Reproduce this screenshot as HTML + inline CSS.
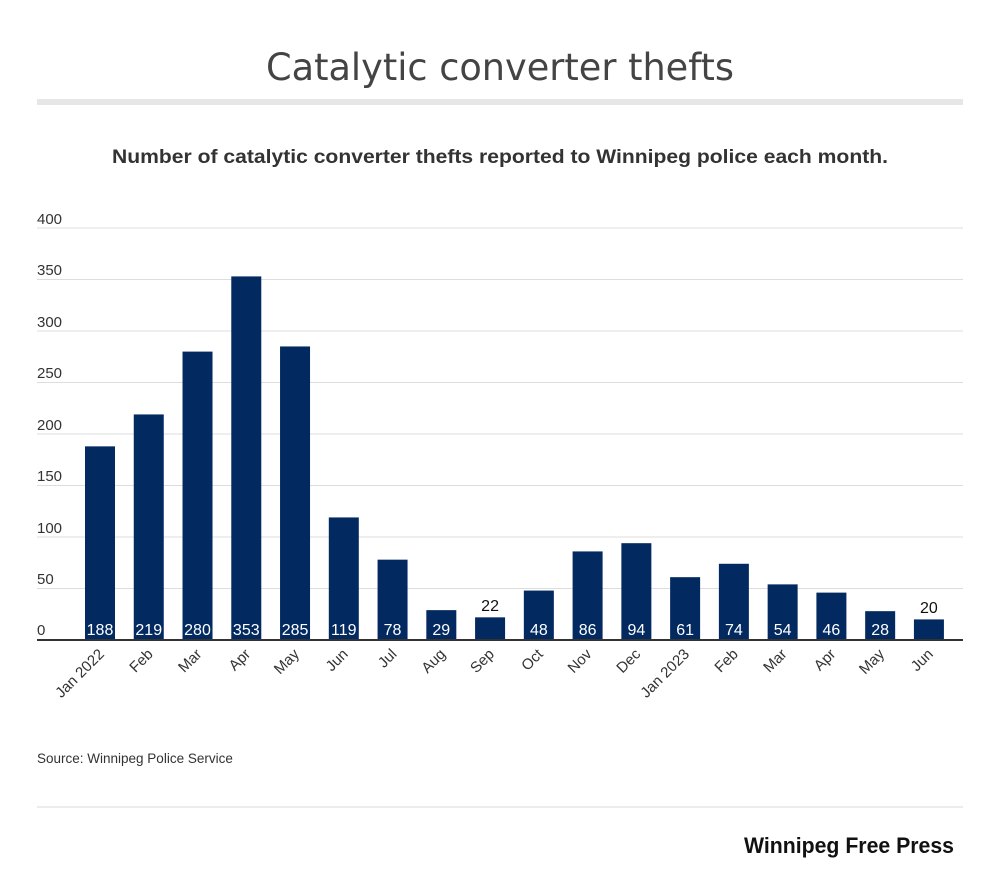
<!DOCTYPE html>
<html><head><meta charset="utf-8"><style>body{margin:0;background:#fff}svg{display:block}</style></head>
<body>
<svg width="1000" height="886" xmlns="http://www.w3.org/2000/svg" font-family="Liberation Sans, sans-serif">
<rect width="1000" height="886" fill="#fff"/>
<text x="500" y="80" text-anchor="middle" font-family="DejaVu Sans, sans-serif" font-size="37" fill="#444" textLength="468" lengthAdjust="spacingAndGlyphs">Catalytic converter thefts</text>
<rect x="37" y="99" width="926" height="6" fill="#e6e6e6"/>
<text x="500" y="163" text-anchor="middle" font-size="19.5" font-weight="bold" fill="#333" textLength="776" lengthAdjust="spacingAndGlyphs">Number of catalytic converter thefts reported to Winnipeg police each month.</text>
<g stroke="#ddd" stroke-width="1">
<line x1="37" x2="963" y1="228" y2="228"/><line x1="37" x2="963" y1="279.5" y2="279.5"/><line x1="37" x2="963" y1="331" y2="331"/><line x1="37" x2="963" y1="382.5" y2="382.5"/><line x1="37" x2="963" y1="434" y2="434"/><line x1="37" x2="963" y1="485.5" y2="485.5"/><line x1="37" x2="963" y1="537" y2="537"/><line x1="37" x2="963" y1="588.5" y2="588.5"/>
</g>
<g font-size="15" fill="#333">
<text x="37" y="224">400</text><text x="37" y="275">350</text><text x="37" y="327">300</text><text x="37" y="378">250</text><text x="37" y="430">200</text><text x="37" y="481">150</text><text x="37" y="533">100</text><text x="37" y="584">50</text><text x="37" y="635">0</text>
</g>
<g fill="#032a60">
<rect x="85" y="446.36" width="30" height="193.64"/>
<rect x="133.76" y="414.43" width="30" height="225.57"/>
<rect x="182.52" y="351.6" width="30" height="288.4"/>
<rect x="231.28" y="276.41" width="30" height="363.59"/>
<rect x="280.04" y="346.45" width="30" height="293.55"/>
<rect x="328.8" y="517.43" width="30" height="122.57"/>
<rect x="377.56" y="559.66" width="30" height="80.34"/>
<rect x="426.32" y="610.13" width="30" height="29.87"/>
<rect x="475.08" y="617.34" width="30" height="22.66"/>
<rect x="523.84" y="590.56" width="30" height="49.44"/>
<rect x="572.6" y="551.42" width="30" height="88.58"/>
<rect x="621.36" y="543.18" width="30" height="96.82"/>
<rect x="670.12" y="577.17" width="30" height="62.83"/>
<rect x="718.88" y="563.78" width="30" height="76.22"/>
<rect x="767.64" y="584.38" width="30" height="55.62"/>
<rect x="816.4" y="592.62" width="30" height="47.38"/>
<rect x="865.16" y="611.16" width="30" height="28.84"/>
<rect x="913.92" y="619.4" width="30" height="20.6"/>
</g>
<g font-size="16" fill="#fff" text-anchor="middle">
<text x="100" y="635">188</text><text x="148.76" y="635">219</text><text x="197.52" y="635">280</text><text x="246.28" y="635">353</text><text x="295.04" y="635">285</text><text x="343.8" y="635">119</text><text x="392.56" y="635">78</text><text x="441.32" y="635">29</text><text x="538.84" y="635">48</text><text x="587.6" y="635">86</text><text x="636.36" y="635">94</text><text x="685.12" y="635">61</text><text x="733.88" y="635">74</text><text x="782.64" y="635">54</text><text x="831.4" y="635">46</text><text x="880.16" y="635">28</text>
</g>
<g font-size="16" fill="#111" text-anchor="middle">
<text x="490.08" y="611">22</text><text x="928.92" y="613">20</text>
</g>
<g font-size="15" fill="#333" text-anchor="end">
<text transform="translate(105,655) rotate(-45)">Jan 2022</text>
<text transform="translate(153.76,655) rotate(-45)">Feb</text>
<text transform="translate(202.52,655) rotate(-45)">Mar</text>
<text transform="translate(251.28,655) rotate(-45)">Apr</text>
<text transform="translate(300.04,655) rotate(-45)">May</text>
<text transform="translate(348.8,655) rotate(-45)">Jun</text>
<text transform="translate(397.56,655) rotate(-45)">Jul</text>
<text transform="translate(446.32,655) rotate(-45)">Aug</text>
<text transform="translate(495.08,655) rotate(-45)">Sep</text>
<text transform="translate(543.84,655) rotate(-45)">Oct</text>
<text transform="translate(592.6,655) rotate(-45)">Nov</text>
<text transform="translate(641.36,655) rotate(-45)">Dec</text>
<text transform="translate(690.12,655) rotate(-45)">Jan 2023</text>
<text transform="translate(738.88,655) rotate(-45)">Feb</text>
<text transform="translate(787.64,655) rotate(-45)">Mar</text>
<text transform="translate(836.4,655) rotate(-45)">Apr</text>
<text transform="translate(885.16,655) rotate(-45)">May</text>
<text transform="translate(933.92,655) rotate(-45)">Jun</text>
</g>
<line x1="37" x2="963" y1="640" y2="640" stroke="#333" stroke-width="2"/>
<text x="37" y="763" font-size="13.5" fill="#333">Source: Winnipeg Police Service</text>
<line x1="37" x2="963" y1="807" y2="807" stroke="#e6e6e6" stroke-width="1.5"/>
<text x="954" y="853" text-anchor="end" font-size="22" font-weight="bold" fill="#111" textLength="210" lengthAdjust="spacingAndGlyphs">Winnipeg Free Press</text>
</svg>
</body></html>
